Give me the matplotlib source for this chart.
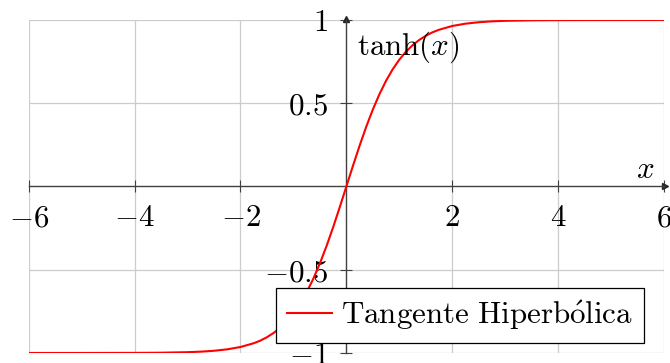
import matplotlib
matplotlib.use("Agg")
import matplotlib.pyplot as plt

plt.rcParams["mathtext.fontset"] = "cm"

# Curve points
x_vals = [-6, -5, -4, -3.5, -3, -2.75, -2.5, -2.25, -2, -1.75, -1.625, -1.5,
          -1.375, -1.25, -1.125, -1, -0.875, -0.75, -0.625, -0.5, -0.375,
          -0.25, -0.125, 0, 0.125, 0.25, 0.375, 0.5, 0.625, 0.75, 0.875, 1,
          1.125, 1.25, 1.375, 1.5, 1.625, 1.75, 2, 2.25, 2.5, 2.75, 3, 3.5,
          4, 5, 6]
y_vals = [-1.0, -0.9999, -0.9993, -0.9982, -0.9951, -0.9919, -0.9866, -0.978,
          -0.964, -0.9414, -0.9258, -0.9051, -0.8799, -0.8483, -0.8096,
          -0.7616, -0.7039, -0.6351, -0.5546, -0.4621, -0.3584, -0.2449,
          -0.1244, 0.0, 0.1244, 0.2449, 0.3584, 0.4621, 0.5546, 0.6351,
          0.7039, 0.7616, 0.8096, 0.8483, 0.8799, 0.9051, 0.9258, 0.9414,
          0.964, 0.978, 0.9866, 0.9919, 0.9951, 0.9982, 0.9993, 0.9999, 1.0]

x_ticks = [-6, -4, -2, 2, 4, 6]
x_labels = ["$-6$", "$-4$", "$-2$", "$2$", "$4$", "$6$"]
y_ticks = [-1, -0.5, 0.5, 1]
y_labels = ["$-1$", "$-0.5$", "$0.5$", "$1$"]

fs = 22.3

fig = plt.figure(figsize=(6.7, 3.63), dpi=100)
ax = fig.add_axes([28.7 / 670, 10 / 363, 635.3 / 670, 333 / 363])

ax.plot(x_vals, y_vals, color="#ff0000", lw=1.5, zorder=3,
        label=r"$\mathrm{Tangente\ Hiperb\acute{o}lica}$")

ax.set_xlim(-6, 6)
ax.set_ylim(-1, 1)
ax.set_xticks(x_ticks)
ax.set_xticklabels(x_labels)
ax.set_yticks(y_ticks)
ax.set_yticklabels(y_labels)

# axis lines through the origin
for s in ["top", "right"]:
    ax.spines[s].set_visible(False)
ax.spines["left"].set_position("zero")
ax.spines["bottom"].set_position("zero")
for s in ["left", "bottom"]:
    ax.spines[s].set_color("0.25")
    ax.spines[s].set_linewidth(1.0)

ax.tick_params(direction="inout", length=8, width=0.8, color="0.25",
               labelsize=fs)
ax.tick_params(axis="x", pad=8)
ax.tick_params(axis="y", pad=9)

ax.grid(True, color="#cccccc", lw=0.9)
ax.set_axisbelow(True)

# arrow heads
ax.plot(1.002, 0, marker=">", color="0.15", ms=5,
        transform=ax.get_yaxis_transform(), clip_on=False)
ax.plot(0, 1.002, marker="^", color="0.15", ms=5,
        transform=ax.get_xaxis_transform(), clip_on=False)

ax.text(0.2, 0.945, r"$\tanh(x)$", fontsize=fs, ha="left", va="top")
ax.text(5.64, 0.10, r"$x$", fontsize=fs, ha="center", va="center")

leg = ax.legend(loc="lower right", bbox_to_anchor=(0.969, 0.03),
                borderaxespad=0, fontsize=fs, fancybox=False,
                edgecolor="black", framealpha=1, handlelength=1.45,
                handletextpad=0.3, borderpad=0.35)
leg.get_frame().set_linewidth(0.9)
leg.set_zorder(5)

fig.savefig("out.png", dpi=100)
